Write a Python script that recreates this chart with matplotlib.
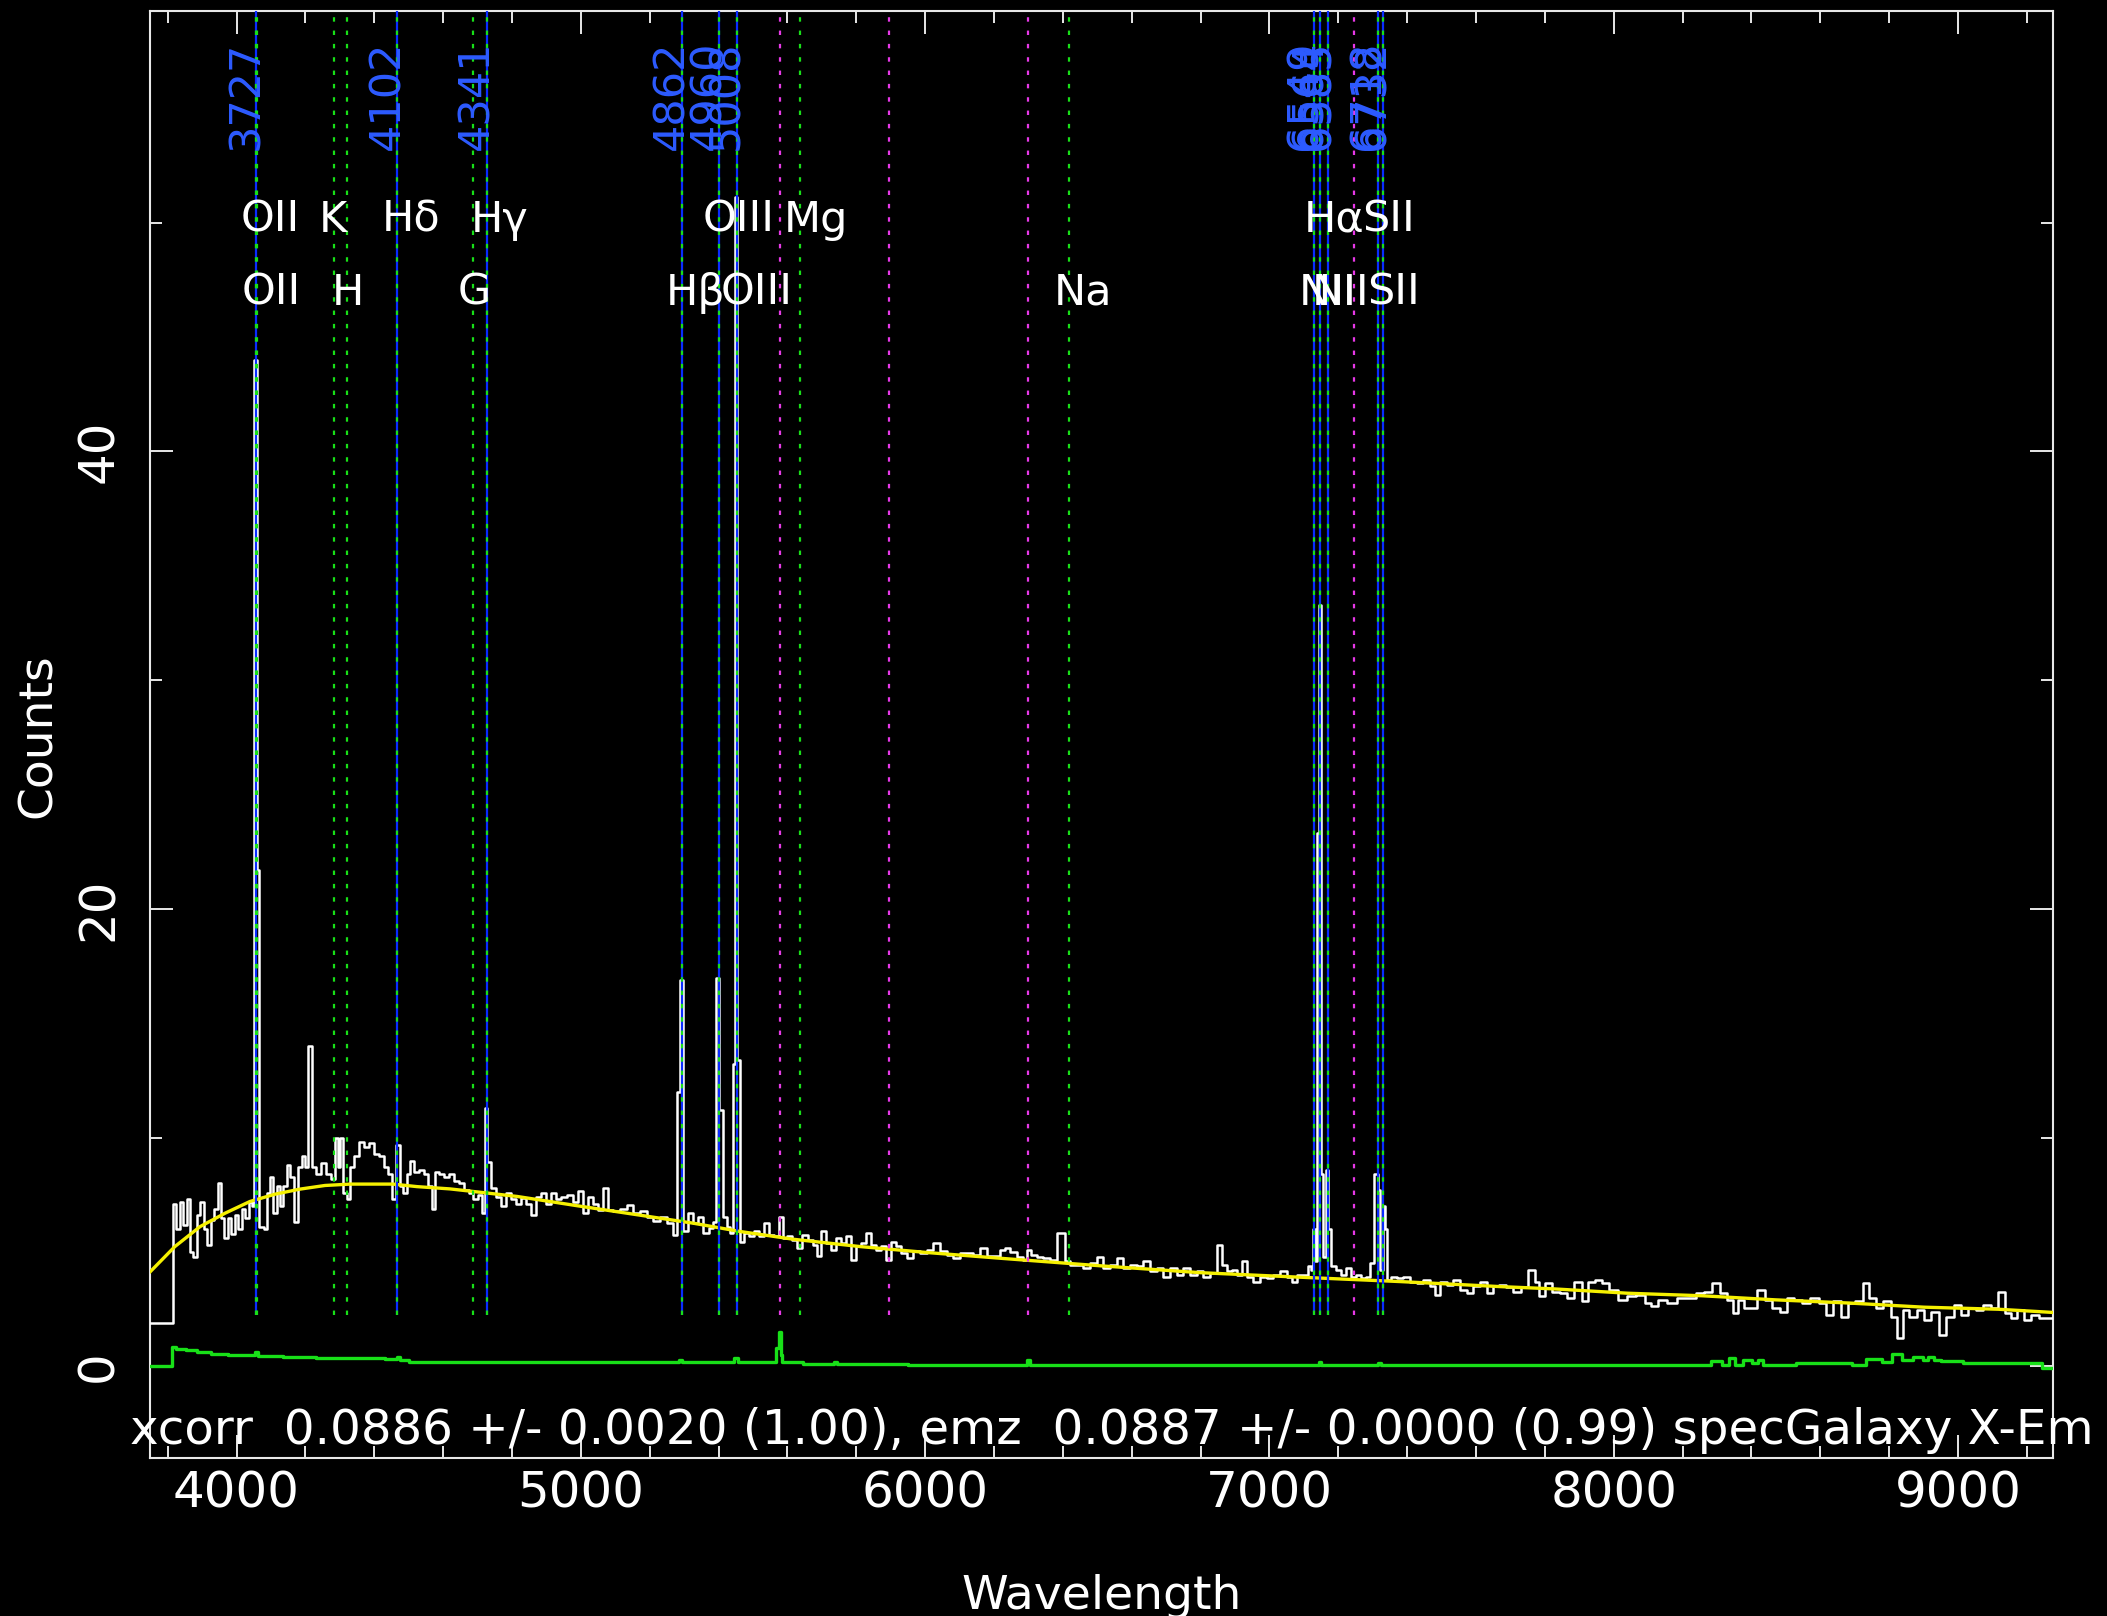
import matplotlib.pyplot as plt
from matplotlib.ticker import MultipleLocator
import numpy as np

plt.rcParams['font.family'] = ['DejaVu Sans']

z_em = 0.0887

# observed spectrum (wavelength in A, counts)
wave = [
    3750, 3760, 3770, 3780, 3790, 3800, 3810, 3820, 3830, 3840,
    3850, 3860, 3870, 3880, 3890, 3900, 3910, 3920, 3930, 3940,
    3950, 3960, 3970, 3980, 3990, 4000, 4010, 4020, 4030, 4040,
    4048, 4056, 4062, 4068, 4076, 4085, 4092, 4102, 4112, 4121,
    4131, 4141, 4151, 4160, 4175, 4184, 4194, 4204, 4213, 4223,
    4238, 4252, 4267, 4281, 4291, 4298, 4305, 4315, 4325, 4334,
    4349, 4363, 4378, 4393, 4407, 4422, 4436, 4446, 4457, 4468,
    4480, 4489, 4499, 4509, 4523, 4538, 4552, 4562, 4572, 4581,
    4596, 4610, 4625, 4639, 4654, 4668, 4683, 4693, 4707, 4717,
    4724, 4731, 4746, 4760, 4775, 4789, 4804, 4818, 4833, 4847,
    4862, 4877, 4891, 4906, 4920, 4935, 4949, 4969, 4983, 4998,
    5012, 5027, 5041, 5056, 5075, 5085, 5104, 5124, 5143, 5162,
    5182, 5201, 5220, 5240, 5259, 5274, 5284, 5292, 5303, 5317,
    5332, 5346, 5366, 5380, 5390, 5398, 5405, 5419, 5428, 5438,
    5445, 5451, 5457, 5467, 5482, 5496, 5511, 5525, 5540, 5554,
    5569, 5580, 5593, 5607, 5622, 5636, 5651, 5666, 5680, 5690,
    5704, 5719, 5733, 5748, 5762, 5777, 5791, 5806, 5820, 5835,
    5850, 5864, 5879, 5893, 5908, 5922, 5937, 5956, 5975, 5995,
    6014, 6033, 6053, 6072, 6091, 6111, 6130, 6150, 6169, 6188,
    6208, 6227, 6237, 6256, 6276, 6290, 6300, 6314, 6334, 6353,
    6372, 6392, 6401, 6411, 6430, 6450, 6469, 6489, 6508, 6527,
    6547, 6566, 6585, 6605, 6624, 6643, 6663, 6682, 6701, 6721,
    6740, 6760, 6779, 6798, 6818, 6837, 6856, 6871, 6885, 6900,
    6914, 6929, 6943, 6963, 6982, 7002, 7021, 7040, 7060, 7074,
    7089, 7108, 7118, 7124, 7130, 7136, 7141, 7147, 7153, 7160,
    7168, 7174, 7181, 7186, 7200, 7215, 7229, 7244, 7258, 7273,
    7287, 7300, 7310, 7318, 7326, 7333, 7340, 7345, 7360, 7379,
    7398, 7418, 7437, 7457, 7476, 7486, 7505, 7524, 7544, 7563,
    7582, 7602, 7621, 7640, 7660, 7676, 7698, 7719, 7741, 7762,
    7778, 7789, 7810, 7832, 7853, 7875, 7896, 7918, 7934, 7955,
    7977, 7998, 8025, 8052, 8079, 8100, 8117, 8138, 8170, 8197,
    8224, 8251, 8272, 8299, 8321, 8337, 8353, 8369, 8385, 8407,
    8428, 8450, 8471, 8493, 8514, 8536, 8557, 8584, 8606, 8627,
    8648, 8670, 8691, 8713, 8734, 8751, 8772, 8793, 8815, 8831,
    8847, 8869, 8890, 8912, 8933, 8955, 8976, 8998, 9019, 9041,
    9062, 9084, 9105, 9127, 9143, 9164, 9180, 9202, 9223, 9245,
    9266, 9280,
]
flux = [
    1.9, 1.9, 1.9, 1.9, 1.9, 1.9, 1.9, 7.1, 6.0, 7.2,
    6.2, 7.3, 5.0, 4.8, 6.6, 7.2, 6.0, 5.3, 6.4, 6.9,
    8.0, 6.5, 5.6, 6.5, 5.8, 6.6, 6.0, 6.9, 6.5, 7.2,
    7.0, 44.0, 21.7, 6.1, 6.1, 6.0, 7.6, 8.3, 6.7, 7.9,
    7.0, 7.9, 8.8, 8.3, 6.3, 8.7, 9.2, 8.7, 14.0, 8.7,
    8.4, 8.9, 8.4, 8.2, 10.0, 8.7, 10.0, 7.6, 7.3, 8.7,
    9.2, 9.8, 9.6, 9.75, 9.3, 9.2, 8.7, 8.4, 7.3, 9.7,
    7.9, 7.6, 8.4, 9.0, 8.5, 8.6, 8.4, 7.9, 6.9, 8.5,
    8.4, 8.3, 8.4, 8.1, 8.0, 7.7, 7.6, 7.3, 7.5, 6.7,
    11.3, 8.95, 7.8, 7.4, 7.0, 7.6, 7.3, 7.1, 7.35, 7.1,
    6.6, 7.4, 7.6, 7.1, 7.6, 7.3, 7.4, 7.5, 7.2, 7.65,
    6.7, 7.4, 7.1, 6.85, 7.8, 6.85, 6.8, 6.9, 7.07, 6.7,
    6.8, 6.55, 6.34, 6.55, 6.27, 5.76, 12.0, 16.9, 5.9, 6.7,
    6.27, 6.55, 5.83, 6.05, 6.3, 17.0, 11.2, 6.55, 6.1, 5.83,
    13.2, 51.1, 13.4, 5.46, 5.83, 5.7, 5.9, 5.7, 6.27, 5.76,
    5.7, 6.55, 5.61, 5.7, 5.54, 5.17, 5.76, 5.54, 5.32, 4.81,
    5.9, 5.39, 5.1, 5.61, 5.39, 5.7, 4.66, 5.25, 5.39, 5.83,
    5.32, 5.1, 5.25, 4.66, 5.46, 5.25, 4.95, 4.74, 5.03, 4.95,
    5.1, 5.39, 5.03, 4.88, 4.74, 4.95, 4.95, 4.88, 5.17, 4.81,
    4.81, 5.1, 5.17, 5.02, 4.8, 4.66, 5.1, 4.88, 4.8, 4.73,
    4.66, 5.83, 5.83, 4.59, 4.44, 4.44, 4.3, 4.51, 4.8, 4.3,
    4.44, 4.73, 4.3, 4.44, 4.37, 4.59, 4.15, 4.3, 3.93, 4.3,
    4.0, 4.3, 4.0, 4.15, 3.93, 4.08, 5.32, 4.44, 4.15, 4.22,
    4.0, 4.59, 3.93, 3.71, 3.93, 3.86, 4.0, 4.15, 3.93, 3.71,
    4.0, 4.0, 4.37, 4.2, 6.0, 4.6, 23.3, 33.3, 8.4, 4.8,
    8.6, 6.0, 4.4, 4.37, 4.22, 4.0, 4.3, 3.93, 4.0, 3.86,
    3.93, 4.51, 8.4, 7.7, 4.2, 7.0, 6.0, 3.79, 3.93, 3.86,
    3.93, 3.71, 3.64, 3.79, 3.5, 3.13, 3.71, 3.57, 3.79, 3.35,
    3.2, 3.5, 3.71, 3.2, 3.5, 3.57, 3.49, 3.27, 3.49, 4.22,
    3.71, 3.06, 3.64, 3.27, 3.2, 2.98, 3.71, 2.84, 3.71, 3.78,
    3.64, 3.35, 2.91, 3.06, 3.13, 2.77, 2.62, 2.91, 2.77, 2.98,
    2.98, 3.2, 3.27, 3.64, 3.2, 2.91, 2.33, 2.91, 2.55, 2.55,
    3.35, 2.91, 2.55, 2.4, 2.98, 2.91, 2.77, 2.98, 2.77, 2.26,
    2.84, 2.18, 2.77, 2.84, 3.64, 2.98, 2.55, 2.84, 2.18, 1.24,
    2.47, 2.18, 2.47, 2.04, 2.4, 1.38, 2.18, 2.69, 2.26, 2.55,
    2.47, 2.69, 2.55, 3.27, 2.33, 2.11, 2.47, 2.04, 2.26, 2.11,
    2.11, 2.11,
]

# continuum model
cont_wave = [3750, 3821, 3894, 3967, 4039, 4112, 4184, 4257, 4330, 4455,
             4524, 4620, 4716, 4815, 4910, 5000, 5133, 5327, 5462, 5617,
             5811, 6005, 6217, 6508, 6798, 7089, 7379, 7670, 7826, 8041,
             8256, 8471, 8686, 8901, 9117, 9276]
cont_flux = [4.15, 5.24, 6.11, 6.70, 7.21, 7.53, 7.75, 7.91, 7.97, 7.97,
             7.86, 7.76, 7.60, 7.43, 7.21, 7.00, 6.70, 6.26, 5.90, 5.56,
             5.24, 4.98, 4.73, 4.40, 4.10, 3.90, 3.71, 3.49, 3.39, 3.20,
             3.09, 2.91, 2.77, 2.59, 2.50, 2.36]

# error spectrum
err_wave = [3750, 3812, 3815, 3835, 3870, 3900, 3950, 4000, 4050, 4058,
            4065, 4120, 4150, 4200, 4260, 4330, 4400, 4460, 4472, 4480,
            4520, 4700, 5280, 5290, 5300, 5440, 5452, 5460, 5560, 5574,
            5578, 5582, 5588, 5640, 5650, 5730, 5740, 5750, 5900, 6000,
            6290, 6300, 6310, 7140, 7147, 7155, 7310, 7320, 7330, 8280,
            8283, 8310, 8320, 8347, 8355, 8396, 8410, 8428, 8440, 8616,
            8686, 8700, 8767, 8790, 8826, 8850, 8890, 8905, 8922, 8940,
            8960, 9008, 9020, 9240, 9250, 9276]
err_flux = [0.0, 0.0, 0.87, 0.75, 0.7, 0.62, 0.55, 0.5, 0.5, 0.65,
            0.45, 0.45, 0.42, 0.42, 0.38, 0.38, 0.35, 0.33, 0.4, 0.3,
            0.2, 0.2, 0.2, 0.28, 0.2, 0.2, 0.35, 0.2, 0.2, 0.8,
            1.5, 0.5, 0.2, 0.2, 0.12, 0.12, 0.2, 0.12, 0.1, 0.07,
            0.07, 0.3, 0.07, 0.07, 0.2, 0.07, 0.07, 0.15, 0.07, 0.07,
            0.22, 0.22, 0.07, 0.36, 0.07, 0.3, 0.15, 0.3, 0.07, 0.17,
            0.17, 0.07, 0.32, 0.2, 0.55, 0.3, 0.43, 0.3, 0.43, 0.3,
            0.25, 0.25, 0.15, 0.15, -0.08, -0.08]

# emission lines (rest wavelength) and their tags
em_rest = [3727.09, 4102.89, 4341.68, 4862.68, 4960.30, 5008.24,
           6549.86, 6564.61, 6585.27, 6718.29, 6732.67]
em_tags = ['3727', '4102', '4341', '4862', '4960', '5008',
           '6549', '6564', '6585', '6718', '6732']
abs_rest = [3729.88, 3934.78, 3969.59, 4305.61, 5176.70, 5895.60]
sky_lines = [5578, 5896, 6300, 7246]

row1_names = ['OII', 'K', 'Hδ', 'Hγ', 'OIII', 'Mg', 'Hα', 'SII']
row1_rest = [3727.09, 3934.78, 4102.89, 4341.68, 4960.30, 5176.70, 6564.61, 6718.29]
row2_names = ['OII', 'H', 'G', 'Hβ', 'OIII', 'Na', 'NII', 'NII', 'SII']
row2_rest = [3729.88, 3969.59, 4305.61, 4862.68, 5008.24, 5895.60, 6549.86, 6585.27, 6732.67]

fg = '#e8e8e8'
blue = '#0a2cff'
green = '#18e018'
magenta = '#e838e8'
ymin, ymax = -4.0, 59.26
line_bot = 2.25

fig = plt.figure(figsize=(21.07, 16.16), dpi=100, facecolor='black')
ax = fig.add_axes([0.0714, 0.0978, 0.9030, 0.8956], facecolor='black')

em_obs = np.array(em_rest) * (1 + z_em)
abs_obs = np.array(abs_rest) * (1 + z_em)

ax.plot(wave, flux, color='white', lw=1.8, drawstyle='steps-mid', zorder=3)
ax.plot(cont_wave, cont_flux, color='#f5f000', lw=2.4, zorder=4)
ax.plot(err_wave, err_flux, color=green, lw=2.4, drawstyle='steps-mid', zorder=4)

dots = (0, (2.0, 4.0))
ax.vlines(em_obs, line_bot, ymax, colors=blue, lw=1.6, zorder=5)
ax.vlines(np.concatenate([em_obs, abs_obs]), line_bot, ymax, colors=green,
          lw=1.6, linestyles=[dots], zorder=6)
ax.vlines(sky_lines, line_bot, ymax, colors=magenta, lw=1.6,
          linestyles=[dots], zorder=6)

for w, tag in zip(em_obs, em_tags):
    ax.text(w + 5, 53.15, tag, color='#2d5bff', fontsize=31, rotation=90,
            rotation_mode='anchor', ha='left', va='baseline', zorder=7)

for names, rest, yb in [(row1_names, row1_rest, 49.6), (row2_names, row2_rest, 46.4)]:
    for name, r in zip(names, rest):
        ax.text(r * (1 + z_em) - 46, yb, name, color='white', fontsize=31,
                ha='left', va='baseline', zorder=7)

ax.set_xlim(3750, 9276)
ax.set_ylim(ymin, ymax)
ax.xaxis.set_major_locator(MultipleLocator(1000))
ax.xaxis.set_minor_locator(MultipleLocator(200))
ax.yaxis.set_major_locator(MultipleLocator(20))
ax.yaxis.set_minor_locator(MultipleLocator(10))
ax.tick_params(which='both', direction='in', top=True, right=True,
               color=fg, width=1.4, labelcolor='white', labelsize=36)
ax.tick_params(which='major', length=16.5)
ax.tick_params(which='minor', length=8.5)
ax.tick_params(axis='x', pad=8)
ax.tick_params(axis='y', pad=20, labelrotation=90)
plt.setp(ax.get_yticklabels(), va='center')
for sp in ax.spines.values():
    sp.set_color(fg)
    sp.set_linewidth(1.5)

fig.text(38 / 2107, 1 - 736 / 1616, 'Counts', color='white', fontsize=34,
         rotation=90, ha='center', va='center')
fig.text(1102 / 2107, 0.0046, 'Wavelength', color='white', fontsize=34,
         ha='center', va='baseline')
fig.text(130 / 2107, 1 - 1444 / 1616,
         'xcorr  0.0886 +/- 0.0020 (1.00), emz  0.0887 +/- 0.0000 (0.99) specGalaxy X-Em',
         color='white', fontsize=34.8, ha='left', va='baseline')

fig.savefig('out.png', dpi=100, facecolor='black')
